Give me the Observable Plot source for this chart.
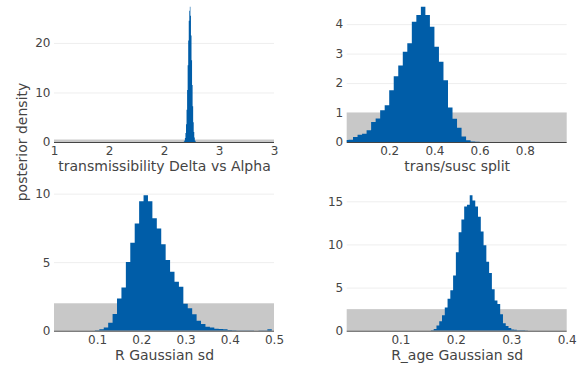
<!DOCTYPE html>
<html><head><meta charset="utf-8">
<script src="https://cdn.jsdelivr.net/npm/d3@7"></script>
<script src="https://cdn.jsdelivr.net/npm/@observablehq/plot@0.6"></script>
<style>
body{margin:0;background:#fff;}
#fig{position:relative;width:582px;height:370px;font-family:"DejaVu Sans",sans-serif;}
.panel{position:absolute;width:291px;height:185px;}
#ytitle{position:absolute;left:22px;top:142px;transform:translate(-50%,-50%) rotate(-90deg);font-size:14px;color:#444;white-space:nowrap;font-family:"DejaVu Sans",sans-serif;}
</style></head><body>
<div id="fig"><div id="ytitle"></div></div>
<script>
// ---- data ----
const yAxisTitle = "posterior density";
const panelTitles = ["transmissibility Delta vs Alpha", "trans/susc split", "R Gaussian sd", "R_age Gaussian sd"];

// transmissibility Delta vs Alpha (histogram density, bin width 0.005)
const deltaBinStart = 2.18, deltaBinWidth = 0.005;
const deltaDensity = [0.1,0.3,0.8,1.8,3.6,6.5,10.5,15.5,20.5,24.5,26.5,27.3,25.5,21.5,16.5,11.5,7.2,4.0,2.0,0.9,0.3,0.1];
const deltaXDomain = [1, 3];
const deltaXTicks = [1, 1.5, 2, 2.5, 3];
const deltaYTicks = [0, 10, 20];
const deltaPrior = 0.5;

// trans/susc split (bin width 0.02)
const splitBinStart = 0.0, splitBinWidth = 0.02;
const splitDensity = [0.07,0.08,0.17,0.25,0.28,0.40,0.68,0.80,1.08,1.25,1.76,2.23,2.60,3.06,3.35,4.08,4.31,4.59,4.31,3.91,3.23,2.72,2.10,1.17,0.79,0.48,0.19,0.06,0.02,0.01];
const splitXDomain = [0.012, 0.985];
const splitXTicks = [0.2, 0.4, 0.6, 0.8];
const splitYTicks = [0, 1, 2, 3, 4];
const splitPrior = 1;

// R Gaussian sd (bin width 0.01)
const rsdBinStart = 0.095, rsdBinWidth = 0.01;
const rsdDensity = [0.03,0.1,0.24,0.58,1.21,2.35,3.16,5.02,6.41,7.82,9.45,9.88,9.45,8.2,7.45,6.3,5.15,4.3,3.57,3.2,1.97,1.63,1.2,0.72,0.49,0.29,0.24,0.15,0.12,0.1,0.05,0.03,0.02,0.02,0.01,0.01,0,0.01,0.02,0.1];
const rsdXDomain = [0.0025, 0.5];
const rsdXTicks = [0.1, 0.2, 0.3, 0.4, 0.5];
const rsdYTicks = [0, 5, 10];
const rsdPrior = 2;

// R_age Gaussian sd (bin width 0.005)
const rageBinStart = 0.155, rageBinWidth = 0.005;
const rageDensity = [0.05,0.2,0.6,1.1,1.8,2.7,3.7,4.7,6.4,9.1,11.4,12.9,14.4,14.6,15.7,15.1,14.4,13.2,11.5,9.9,8.0,6.7,4.8,3.5,3.1,1.9,0.85,0.55,0.3,0.15,0.1,0.06,0.05,0.04,0.03];
const rageXDomain = [0.003, 0.4];
const rageXTicks = [0.1, 0.2, 0.3, 0.4];
const rageYTicks = [0, 5, 10, 15];
const ragePrior = 2.5;

// ---- drawing ----
const BLUE = "#005da8";
const GREY = "#c8c8c8";
const FONT = '"DejaVu Sans", sans-serif';

// step outline points: left edge of each bin, plus the right edge of the last bin
function toSteps(start, width, dens) {
  const pts = dens.map((y, i) => ({x: start + i * width, y}));
  pts.push({x: start + dens.length * width, y: dens[dens.length - 1]});
  return pts;
}

function panel(cfg) {
  const yMax = d3.max(cfg.steps, d => d.y) * 1.05;
  return Plot.plot({
    width: 291, height: 185,
    marginLeft: cfg.ml, marginRight: 291 - cfg.ml - 220,
    marginTop: cfg.mt, marginBottom: 185 - cfg.mt - cfg.plotH,
    style: {fontFamily: FONT, fontSize: "12px", color: "#444", background: "transparent", overflow: "visible"},
    x: {domain: cfg.xDomain},
    y: {domain: [0, yMax]},
    marks: [
      Plot.gridY(cfg.yTicks.filter(t => t !== 0), {stroke: "#eee", strokeOpacity: 1, strokeWidth: 1}),
      Plot.rect([{x1: cfg.xDomain[0], x2: cfg.xDomain[1], y: cfg.prior}], {x1: "x1", x2: "x2", y1: 0, y2: "y", fill: GREY}),
      Plot.areaY(cfg.steps, {x: "x", y1: 0, y2: "y", curve: "step-after", fill: BLUE, clip: true}),
      Plot.ruleY([0], {stroke: "#444", strokeWidth: 1}),
      Plot.axisX(cfg.xTicks, {tickSize: 0, tickPadding: 4, label: null, fontSize: 12}),
      Plot.axisY(cfg.yTicks, {tickSize: 0, tickPadding: 4, label: null, fontSize: 12}),
      Plot.text([cfg.title], {text: d => d, frameAnchor: "bottom", lineAnchor: "middle", dy: cfg.titleDy, fontSize: 14, fill: "#444"})
    ]
  });
}

const fig = document.getElementById("fig");
document.getElementById("ytitle").textContent = yAxisTitle;

const configs = [
  {left: 0, top: 0, ml: 54, mt: 0, plotH: 142, titleDy: 24, steps: toSteps(deltaBinStart, deltaBinWidth, deltaDensity), xDomain: deltaXDomain, xTicks: deltaXTicks, yTicks: deltaYTicks, prior: deltaPrior, title: panelTitles[0]},
  {left: 291, top: 0, ml: 55.7, mt: 0, plotH: 142, titleDy: 24, steps: toSteps(splitBinStart, splitBinWidth, splitDensity), xDomain: splitXDomain, xTicks: splitXTicks, yTicks: splitYTicks, prior: splitPrior, title: panelTitles[1]},
  {left: 0, top: 185, ml: 54, mt: 3.5, plotH: 142.2, titleDy: 24.5, steps: toSteps(rsdBinStart, rsdBinWidth, rsdDensity), xDomain: rsdXDomain, xTicks: rsdXTicks, yTicks: rsdYTicks, prior: rsdPrior, title: panelTitles[2]},
  {left: 291, top: 185, ml: 55.7, mt: 3.5, plotH: 142.2, titleDy: 24.5, steps: toSteps(rageBinStart, rageBinWidth, rageDensity), xDomain: rageXDomain, xTicks: rageXTicks, yTicks: rageYTicks, prior: ragePrior, title: panelTitles[3]}
];

for (const c of configs) {
  const div = document.createElement("div");
  div.className = "panel";
  div.style.left = c.left + "px";
  div.style.top = c.top + "px";
  div.appendChild(panel(c));
  fig.appendChild(div);
}
</script>
</body></html>
